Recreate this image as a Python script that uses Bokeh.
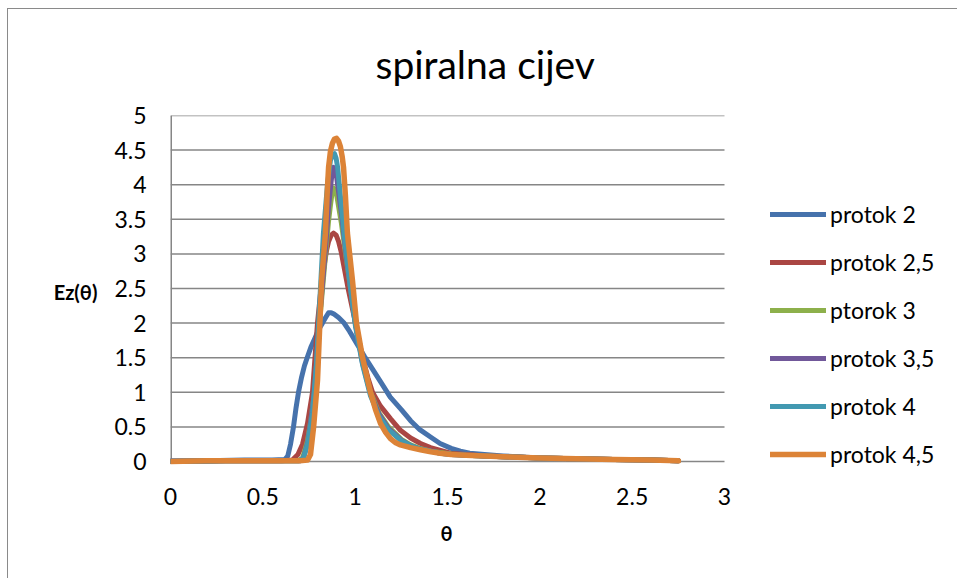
from bokeh.plotting import figure
from bokeh.models import Range1d, FixedTicker, Legend, LegendItem, Title
from bokeh.embed import file_html
from bokeh.resources import INLINE

# ---------------- data ----------------
title_text = "spiralna cijev"
x_label = "θ"
y_label = "Ez(θ)"

x_ticks = [0, 0.5, 1, 1.5, 2, 2.5, 3]
x_tick_labels = ["0", "0.5", "1", "1.5", "2", "2.5", "3"]
y_ticks = [0, 0.5, 1, 1.5, 2, 2.5, 3, 3.5, 4, 4.5, 5]
y_tick_labels = ["0", "0.5", "1", "1.5", "2", "2.5", "3", "3.5", "4", "4.5", "5"]

series_names = ["protok 2", "protok 2,5", "ptorok 3", "protok 3,5", "protok 4", "protok 4,5"]
series_colors = ["#4672AC", "#AA4643", "#8DB04B", "#71589A", "#4299B1", "#DC8337"]

theta_p2 = [0, 0.2, 0.4, 0.55, 0.62, 0.635, 0.65, 0.666, 0.68, 0.693, 0.71, 0.725, 0.74, 0.76,
            0.785, 0.805, 0.823, 0.84, 0.856, 0.87, 0.885, 0.91, 0.94, 0.97, 1.01, 1.05, 1.10,
            1.15, 1.19, 1.25, 1.30, 1.35, 1.41, 1.46, 1.52, 1.57, 1.62, 1.7, 1.8, 1.9, 2.0,
            2.2, 2.4, 2.6, 2.75]
ez_p2 = [0.01, 0.01, 0.02, 0.02, 0.03, 0.08, 0.25, 0.5, 0.78, 1.0, 1.22, 1.38, 1.5, 1.65,
         1.8, 1.92, 2.0, 2.08, 2.15, 2.15, 2.13, 2.08, 2.0, 1.88, 1.7, 1.52, 1.31,
         1.1, 0.93, 0.75, 0.59, 0.46, 0.35, 0.26, 0.19, 0.15, 0.12, 0.10, 0.08, 0.065, 0.05,
         0.04, 0.03, 0.02, 0.01]

theta_p25 = [0, 0.3, 0.6, 0.66, 0.69, 0.715, 0.742, 0.769, 0.796, 0.815, 0.83, 0.845, 0.856,
             0.87, 0.883, 0.897, 0.91, 0.925, 0.937, 0.964, 1.002, 1.04, 1.07, 1.094, 1.137,
             1.191, 1.245, 1.30, 1.354, 1.408, 1.462, 1.516, 1.6, 1.7, 1.8, 2.0, 2.2, 2.4,
             2.6, 2.75]
ez_p25 = [0.0, 0.01, 0.01, 0.02, 0.1, 0.25, 0.55, 1.0, 2.0, 2.5, 2.8, 3.05, 3.18,
          3.27, 3.3, 3.27, 3.18, 3.02, 2.85, 2.47, 2.0, 1.5, 1.2, 1.0, 0.8,
          0.62, 0.45, 0.34, 0.26, 0.2, 0.16, 0.12, 0.1, 0.08, 0.07, 0.05, 0.04, 0.03,
          0.02, 0.01]

theta_p3 = [0, 0.3, 0.6, 0.69, 0.715, 0.742, 0.76, 0.78, 0.807, 0.84, 0.855, 0.866, 0.875,
            0.883, 0.892, 0.90, 0.925, 0.948, 0.975, 1.002, 1.04, 1.083, 1.13, 1.18, 1.25,
            1.30, 1.35, 1.41, 1.46, 1.52, 1.6, 1.7, 1.8, 2.0, 2.2, 2.4, 2.6, 2.75]
ez_p3 = [0.0, 0.01, 0.01, 0.01, 0.05, 0.3, 0.6, 1.0, 2.0, 3.0, 3.45, 3.7, 3.88,
         3.95, 3.92, 3.85, 3.45, 3.0, 2.5, 2.0, 1.45, 1.0, 0.7, 0.5, 0.32,
         0.24, 0.19, 0.15, 0.13, 0.11, 0.09, 0.08, 0.07, 0.05, 0.04, 0.03, 0.02, 0.01]

theta_p35 = [0, 0.3, 0.6, 0.7, 0.72, 0.745, 0.76, 0.78, 0.807, 0.84, 0.855, 0.866, 0.875,
             0.883, 0.892, 0.90, 0.925, 0.948, 0.975, 1.002, 1.04, 1.083, 1.13, 1.18, 1.25,
             1.30, 1.35, 1.41, 1.46, 1.52, 1.6, 1.7, 1.8, 2.0, 2.2, 2.4, 2.6, 2.75]
ez_p35 = [0.0, 0.01, 0.01, 0.01, 0.05, 0.3, 0.6, 1.0, 2.05, 3.1, 3.65, 3.95, 4.17,
          4.25, 4.2, 4.1, 3.6, 3.05, 2.5, 1.98, 1.42, 0.98, 0.68, 0.48, 0.31,
          0.23, 0.18, 0.15, 0.12, 0.1, 0.09, 0.08, 0.07, 0.05, 0.04, 0.03, 0.02, 0.01]

theta_p4 = [0, 0.3, 0.6, 0.7, 0.72, 0.742, 0.769, 0.79, 0.81, 0.828, 0.85, 0.866, 0.877,
            0.888, 0.897, 0.905, 0.925, 0.948, 0.975, 1.002, 1.04, 1.083, 1.13, 1.18, 1.25,
            1.30, 1.35, 1.41, 1.46, 1.52, 1.6, 1.7, 1.8, 2.0, 2.2, 2.4, 2.6, 2.75]
ez_p4 = [0.0, 0.01, 0.01, 0.01, 0.05, 0.25, 0.7, 1.4, 2.4, 3.3, 4.0, 4.35, 4.43,
         4.45, 4.38, 4.25, 3.7, 3.1, 2.5, 1.95, 1.4, 0.95, 0.65, 0.46, 0.3,
         0.23, 0.18, 0.15, 0.12, 0.1, 0.09, 0.08, 0.07, 0.05, 0.04, 0.03, 0.02, 0.01]

theta_p45 = [0, 0.2, 0.4, 0.6, 0.7, 0.742, 0.758, 0.775, 0.796, 0.818, 0.839, 0.848, 0.856,
             0.866, 0.877, 0.888, 0.899, 0.91, 0.92, 0.93, 0.937, 0.947, 0.958, 0.986, 1.007,
             1.04, 1.083, 1.11, 1.137, 1.165, 1.191, 1.22, 1.245, 1.30, 1.354, 1.41, 1.46,
             1.52, 1.6, 1.7, 1.84, 2.0, 2.2, 2.4, 2.6, 2.75]
ez_p45 = [0.0, 0.01, 0.01, 0.01, 0.01, 0.02, 0.1, 0.5, 1.17, 2.6, 3.3, 3.85, 4.25,
          4.48, 4.6, 4.66, 4.67, 4.63, 4.55, 4.4, 4.25, 3.85, 3.3, 2.6, 2.0,
          1.5, 1.0, 0.75, 0.55, 0.42, 0.33, 0.27, 0.24, 0.2, 0.17, 0.14, 0.12,
          0.1, 0.09, 0.08, 0.065, 0.05, 0.04, 0.03, 0.02, 0.01]

series_theta = [theta_p2, theta_p25, theta_p3, theta_p35, theta_p4, theta_p45]
series_ez = [ez_p2, ez_p25, ez_p3, ez_p35, ez_p4, ez_p45]

# ---------------- layout constants ----------------
FONT = "Lato"
GRID = "#868686"
W, H = 950, 570
LEFT, TOP, BOTTOM = 162, 106, 111
PLOT_W_PX = 554          # pixel width of the 0..3 span
PLOT_H_PX = 346          # pixel height of the 0..5 span
frame_w = W - LEFT
frame_h = H - TOP - BOTTOM
x_end = x_ticks[-1] * frame_w / PLOT_W_PX
y_start = y_ticks[-1] - y_ticks[-1] * frame_h / PLOT_H_PX

p = figure(width=W, height=H, x_range=Range1d(0, x_end), y_range=Range1d(y_start, y_ticks[-1]),
           output_backend="svg", toolbar_location=None,
           min_border_left=LEFT, min_border_right=0, min_border_top=TOP, min_border_bottom=BOTTOM)
p.outline_line_color = None
p.background_fill_color = "white"
p.border_fill_color = "white"
p.styles = {"margin-left": "7px", "margin-top": "8px",
            "border-left": "1px solid #8a8a8a", "border-top": "1px solid #8a8a8a"}

p.title.text = title_text
p.title.align = "left"
p.title.offset = 205
p.title.text_font = FONT
p.title.text_font_size = "39px"
p.title.text_font_style = "normal"
p.title.text_color = "black"
p.title.standoff = 58

p.xaxis.ticker = FixedTicker(ticks=x_ticks)
p.yaxis.ticker = FixedTicker(ticks=y_ticks)
p.xaxis.major_label_overrides = {float(t): l for t, l in zip(x_ticks, x_tick_labels)}
p.yaxis.major_label_overrides = {float(t): l for t, l in zip(y_ticks, y_tick_labels)}

for ax in (p.xaxis[0], p.yaxis[0]):
    ax.major_tick_line_color = None
    ax.minor_tick_line_color = None
    ax.major_tick_out = 0
    ax.major_tick_in = 0
    ax.axis_line_color = None
    ax.major_label_text_font = FONT
    ax.major_label_text_font_size = "23px"
    ax.major_label_text_color = "black"
    ax.axis_label_text_font = FONT
    ax.axis_label_text_font_size = "20px"
    ax.axis_label_text_font_style = "bold"
    ax.axis_label_text_color = "black"
p.xaxis.major_label_standoff = 19
p.yaxis.major_label_standoff = 24

p.yaxis.axis_label = y_label
p.yaxis.axis_label_orientation = "horizontal"
p.yaxis.axis_label_standoff = 14

xt = Title(text=x_label, align="left", offset=270, text_font=FONT, text_font_size="20px",
           text_font_style="bold", text_color="black", standoff=22)
p.add_layout(xt, "below")

p.xgrid.grid_line_color = None
p.ygrid.grid_line_color = None

# horizontal gridlines across the 0..3 span, and the vertical axis line
p.segment(x0=[x_ticks[0]] * len(y_ticks), y0=y_ticks, x1=[x_ticks[-1]] * len(y_ticks), y1=y_ticks,
          line_color=GRID, line_width=1.5, level="underlay")
p.segment(x0=[x_ticks[0]], y0=[y_ticks[0]], x1=[x_ticks[0]], y1=[y_ticks[-1]],
          line_color=GRID, line_width=3, level="underlay")

renderers = []
for th, ez, col in zip(series_theta, series_ez, series_colors):
    r = p.line(th, ez, line_color=col, line_width=5, line_cap="round", line_join="round")
    renderers.append(r)
renderers[-1].glyph.line_width = 5.5

legend = Legend(items=[LegendItem(label=n, renderers=[r]) for n, r in zip(series_names, renderers)],
                location=(600, 0), orientation="vertical", border_line_color=None,
                background_fill_alpha=0, glyph_width=56, glyph_height=20, label_height=20,
                spacing=20, padding=0, margin=0, label_standoff=4,
                label_text_font=FONT, label_text_font_size="23px", label_text_color="black")
p.add_layout(legend)

open("out.html", "w").write(file_html(p, INLINE))
